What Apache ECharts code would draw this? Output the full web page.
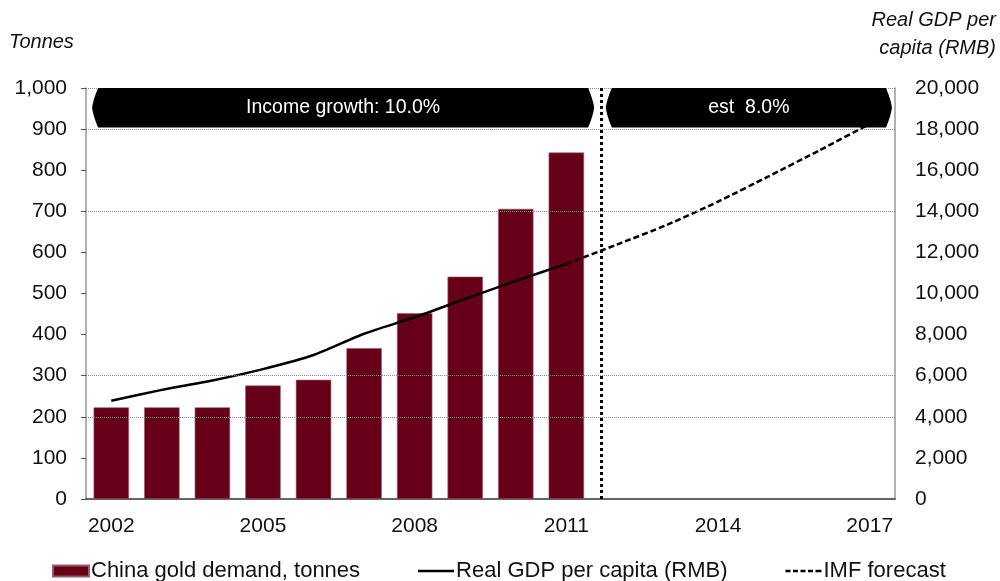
<!DOCTYPE html>
<html>
<head>
  <meta charset="UTF-8">
  <script src="https://cdn.jsdelivr.net/npm/echarts@6/dist/echarts.min.js"></script>
  <style>
    html, body { margin: 0; padding: 0; background: #fff; }
    #mychart { width: 1000px; height: 581px; }
  </style>
</head>
<body>
  <div id="mychart"></div>

  <script type="text/javascript">
    // data
    var years = ['2002', '2003', '2004', '2005', '2006', '2007', '2008', '2009',
                 '2010', '2011', '2012', '2013', '2014', '2015', '2016', '2017'];
    var goldDemand = [223, 223, 223, 276, 290, 367, 452, 541, 706, 843,
                      null, null, null, null, null, null];
    var gdpActual = [4783, 5311, 5767, 6320, 7005, 8043, 8845, 9735, 10615, 11441,
                     null, null, null, null, null, null];
    var gdpForecast = [null, null, null, null, null, null, null, null, null, 11441,
                       12380, 13350, 14470, 15700, 16960, 18250];
    var gridTonnes = [200, 300, 700, 900, 1000];
    var splitYear = 2011.7;
    var bannerFrom = [2001.62, 2011.78];
    var bannerTo = [2011.55, 2017.44];
    var bannerTop = [1000, 1000];
    var bannerBottom = [904, 904];
    var bannerTexts = ['Income growth: 10.0%', 'est  8.0%'];

    var FONT = '"Liberation Sans", Arial, sans-serif';

    var bannerData = bannerFrom.map(function (v, i) {
      return [v, bannerTo[i], bannerTop[i], bannerBottom[i]];
    });

    function fmt(v) {
      return String(v).replace(/\B(?=(\d{3})+(?!\d))/g, ',');
    }

    // black arrow banners at the top of the plot
    function renderBanner(params, api) {
      var p0 = api.coord([api.value(0), api.value(2)]);
      var p1 = api.coord([api.value(1), api.value(3)]);
      var x0 = p0[0], x1 = p1[0], t = p0[1], b = p1[1];
      var m = (t + b) / 2, h = b - t, k = 6;
      var a = x0 + k, c = x1 - k;
      var d = 'M' + a + ',' + t + ' L' + c + ',' + t +
        ' Q' + (x1 - 1) + ',' + (t + h * 0.3) + ' ' + x1 + ',' + m +
        ' Q' + (x1 - 1) + ',' + (b - h * 0.3) + ' ' + c + ',' + b +
        ' L' + a + ',' + b +
        ' Q' + (x0 + 1) + ',' + (b - h * 0.3) + ' ' + x0 + ',' + m +
        ' Q' + (x0 + 1) + ',' + (t + h * 0.3) + ' ' + a + ',' + t + ' Z';
      return {
        type: 'group',
        children: [
          { type: 'path', shape: { pathData: d }, style: { fill: '#000' } },
          {
            type: 'text',
            style: {
              x: (x0 + x1) / 2, y: m,
              text: bannerTexts[params.dataIndex],
              fill: '#fff', font: '19.5px ' + FONT,
              align: 'center', verticalAlign: 'middle'
            }
          }
        ]
      };
    }

    var titleText = { fontFamily: FONT, fontSize: 20, fontStyle: 'italic', fontWeight: 'normal', color: '#111' };

    var myChart = echarts.init(document.getElementById('mychart'));

    myChart.setOption({
      animation: false,
      backgroundColor: '#fff',
      title: [
        { text: 'Tonnes', left: 9, top: 32, padding: 0, textStyle: titleText },
        { text: 'Real GDP per', right: 4, top: 10, padding: 0, textStyle: titleText },
        { text: 'capita (RMB)', right: 4, top: 38, padding: 0, textStyle: titleText }
      ],
      legend: {
        left: 47, top: 555,
        itemWidth: 36, itemHeight: 11, itemGap: 58,
        textStyle: { fontFamily: FONT, fontSize: 22, color: '#111', padding: [0, 0, 0, -3] },
        data: [
          { name: 'China gold demand, tonnes', icon: 'rect' },
          { name: 'Real GDP per capita (RMB)', icon: 'path://M0,0h36v2.5h-36z' },
          { name: 'IMF forecast', icon: 'path://M0,0h5v2.5h-5z M7.5,0h5v2.5h-5z M15,0h5v2.5h-5z M22.5,0h5v2.5h-5z M30,0h6v2.5h-6z' }
        ]
      },
      grid: { left: 86, right: 105, top: 88, bottom: 82 },
      xAxis: [
        {
          type: 'category',
          data: years,
          axisLine: { lineStyle: { color: '#333', width: 1.5 } },
          axisTick: { interval: 2, length: 6, lineStyle: { color: '#555' } },
          axisLabel: { interval: 2, margin: 17, fontFamily: FONT, fontSize: 21, color: '#111' }
        },
        {
          type: 'value', min: 2001.5, max: 2017.5, show: false
        }
      ],
      yAxis: [
        {
          type: 'value', min: 0, max: 1000, interval: 100,
          axisLine: { show: true, lineStyle: { color: '#999', width: 1.5 } },
          axisTick: { show: true, length: 5, lineStyle: { color: '#555' } },
          splitLine: { show: false },
          axisLabel: { margin: 19, fontFamily: FONT, fontSize: 21, color: '#111', formatter: fmt }
        },
        {
          type: 'value', min: 0, max: 20000, interval: 2000, position: 'right',
          axisLine: { show: true, lineStyle: { color: '#999', width: 1.5 } },
          axisTick: { show: false },
          splitLine: { show: false },
          axisLabel: { margin: 20, fontFamily: FONT, fontSize: 21, color: '#111', formatter: fmt }
        }
      ],
      series: [
        {
          name: 'China gold demand, tonnes',
          type: 'bar',
          data: goldDemand,
          barWidth: '70%',
          itemStyle: { color: '#660019', borderColor: '#9c5a6a', borderWidth: 0.6 },
          markLine: {
            silent: true, symbol: 'none', label: { show: false },
            lineStyle: { color: '#888', type: 'dotted', width: 1 },
            data: gridTonnes.map(function (v) { return { yAxis: v }; })
          },
          z: 2
        },
        {
          name: 'Real GDP per capita (RMB)',
          type: 'line',
          yAxisIndex: 1,
          data: gdpActual,
          smooth: 0.2,
          symbol: 'none',
          lineStyle: { color: '#000', width: 2.5 },
          itemStyle: { color: '#000' },
          z: 4
        },
        {
          name: 'IMF forecast',
          type: 'line',
          yAxisIndex: 1,
          data: gdpForecast,
          smooth: 0.2,
          symbol: 'none',
          lineStyle: { color: '#000', width: 2.5, type: [6, 3] },
          itemStyle: { color: '#000' },
          z: 4
        },
        {
          type: 'custom',
          xAxisIndex: 1,
          yAxisIndex: 0,
          renderItem: renderBanner,
          data: bannerData,
          encode: { x: [0, 1], y: [2, 3] },
          clip: false,
          silent: true,
          markLine: {
            silent: true, symbol: 'none', label: { show: false },
            lineStyle: { color: '#000', type: [3, 3], width: 3 },
            data: [{ xAxis: splitYear }]
          },
          z: 5
        }
      ]
    });
  </script>
</body>
</html>
